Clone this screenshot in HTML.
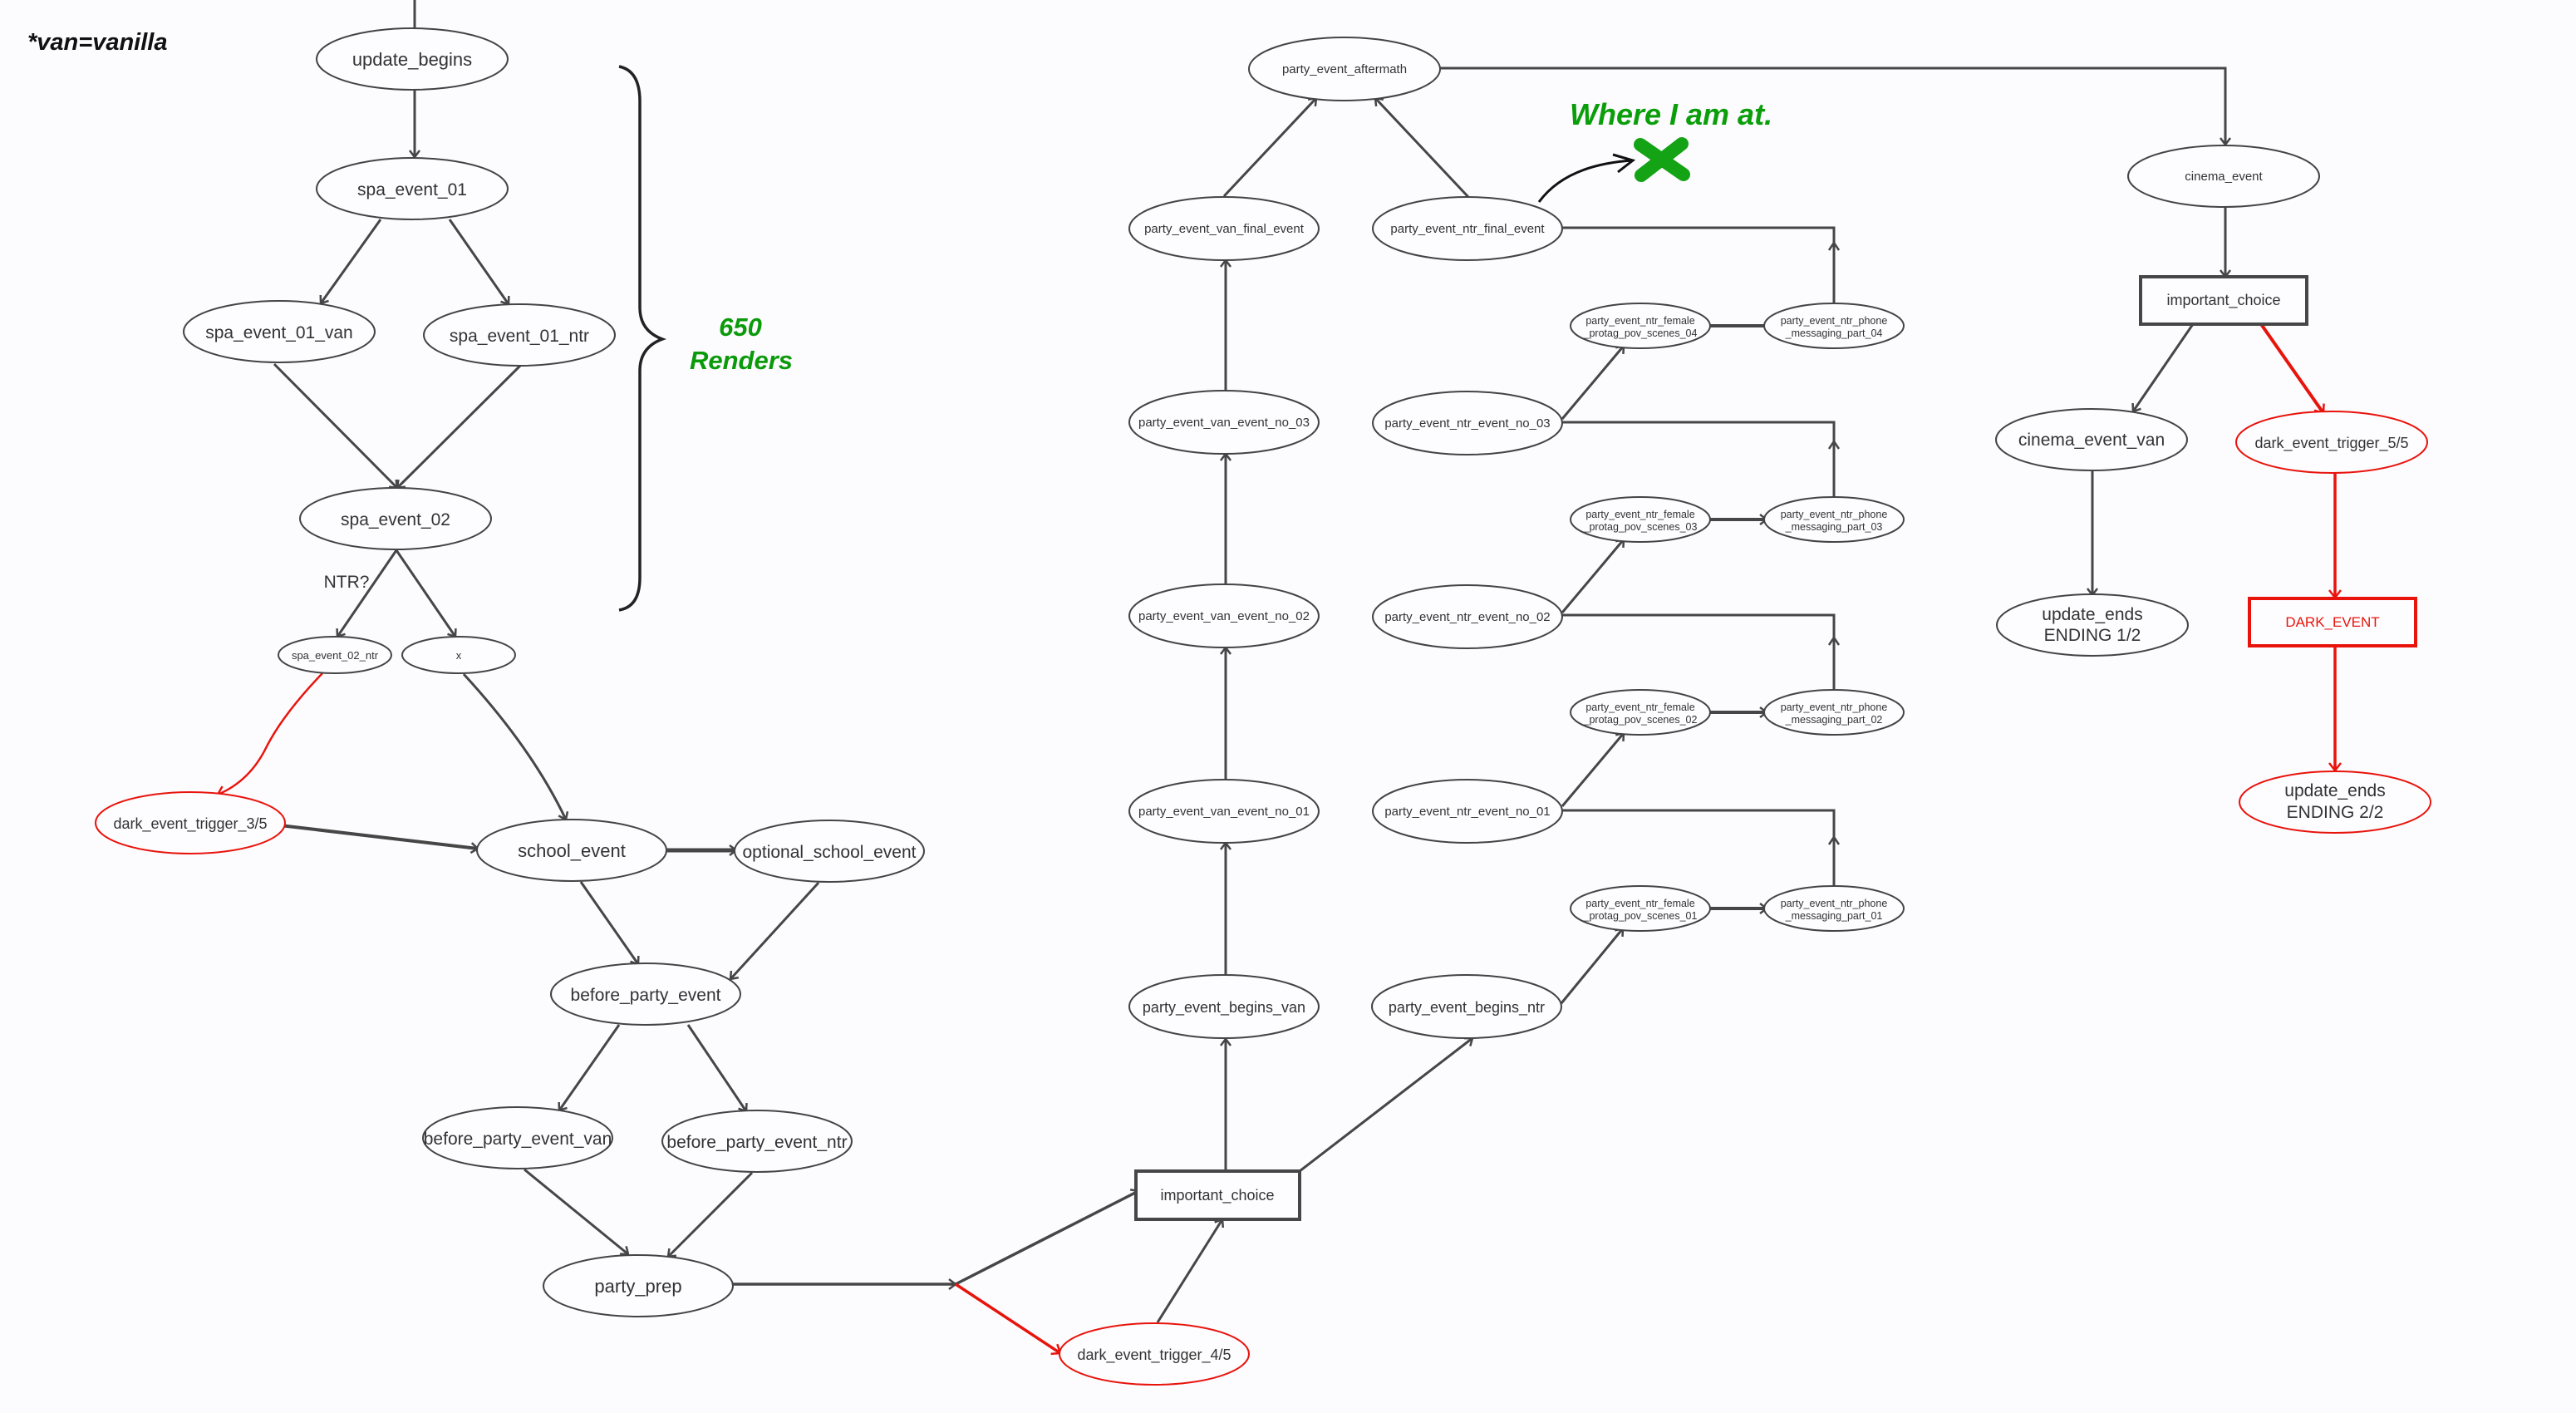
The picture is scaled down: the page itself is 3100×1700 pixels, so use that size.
<!DOCTYPE html>
<html><head><meta charset="utf-8"><style>
html,body{margin:0;padding:0;background:#fcfbfe;}
svg{display:block;}
text{font-family:"Liberation Sans",Arial,sans-serif;fill:#333;}
.n{fill:#fdfcfe;stroke:#444;stroke-width:2;}
.r{fill:#fdfcfe;stroke:#e8140c;stroke-width:2;}
.l{stroke:#464646;stroke-width:3;fill:none;}
.lr{stroke:#e8140c;stroke-width:3.5;fill:none;}
</style></head><body>
<svg width="3100" height="1700" viewBox="0 0 3100 1700" xmlns="http://www.w3.org/2000/svg">
<defs>
<marker id="a" viewBox="-12 -10 14 20" refX="0" refY="0" markerWidth="14" markerHeight="20" markerUnits="userSpaceOnUse" orient="auto" overflow="visible"><path d="M-8,-6 L0,0 L-8,6" fill="none" stroke="#464646" stroke-width="2.5"/></marker>
<marker id="ar" viewBox="-12 -10 14 20" refX="0" refY="0" markerWidth="14" markerHeight="20" markerUnits="userSpaceOnUse" orient="auto" overflow="visible"><path d="M-9,-7 L0,0 L-9,7" fill="none" stroke="#e8140c" stroke-width="2.5"/></marker>
</defs>
<rect width="3100" height="1700" fill="#fcfbfe"/>

<!-- annotations -->
<text x="33" y="60" style="font-weight:bold;font-style:italic;font-size:29px;fill:#111;">*van=vanilla</text>
<path d="M745,80 Q770,85 770,122 L770,370 Q770,398 797,408 Q770,418 770,446 L770,695 Q770,730 745,734" fill="none" stroke="#222" stroke-width="3.5"/>
<text x="891" y="404" text-anchor="middle" style="font-weight:bold;font-style:italic;font-size:31px;fill:#0a9a0a;">650</text>
<text x="892" y="444" text-anchor="middle" style="font-weight:bold;font-style:italic;font-size:31px;fill:#0a9a0a;">Renders</text>
<text x="1889" y="150" style="font-weight:bold;font-style:italic;font-size:36px;fill:#0a9e0a;">Where I am at.</text>
<g stroke="#14a314" stroke-width="16" stroke-linecap="round"><line x1="1974" y1="174" x2="2026" y2="210"/><line x1="2024" y1="173" x2="1975" y2="211"/></g>
<path d="M1852,243 Q1885,198 1965,193" fill="none" stroke="#111" stroke-width="3"/>
<path d="M1941,186 L1965,193 L1947,207" fill="none" stroke="#111" stroke-width="3"/>

<!-- left edges -->
<line class="l" x1="499" y1="0" x2="499" y2="34"/>
<line class="l" x1="499" y1="108" x2="499" y2="189" marker-end="url(#a)"/>
<line class="l" x1="458" y1="264" x2="386" y2="365" marker-end="url(#a)"/>
<line class="l" x1="541" y1="264" x2="612" y2="366" marker-end="url(#a)"/>
<line class="l" x1="330" y1="438" x2="478" y2="587" marker-end="url(#a)"/>
<line class="l" x1="626" y1="440" x2="478" y2="587" marker-end="url(#a)"/>
<line class="l" x1="477" y1="662" x2="406" y2="766" marker-end="url(#a)"/>
<line class="l" x1="477" y1="662" x2="548" y2="766" marker-end="url(#a)"/>
<path class="lr" style="stroke-width:2.5" d="M388,810 Q340,860 320,900 T262,956" marker-end="url(#ar)"/>
<path class="l" d="M558,811 Q640,900 681,986" marker-end="url(#a)"/>
<line class="l" style="stroke-width:4" x1="337" y1="993" x2="575" y2="1021" marker-end="url(#a)"/>
<line class="l" style="stroke-width:5" x1="801" y1="1023" x2="886" y2="1023" marker-end="url(#a)"/>
<line class="l" x1="699" y1="1061" x2="768" y2="1160" marker-end="url(#a)"/>
<line class="l" x1="985" y1="1062" x2="879" y2="1178" marker-end="url(#a)"/>
<line class="l" x1="745" y1="1233" x2="673" y2="1336" marker-end="url(#a)"/>
<line class="l" x1="828" y1="1233" x2="898" y2="1337" marker-end="url(#a)"/>
<line class="l" x1="631" y1="1407" x2="756" y2="1509" marker-end="url(#a)"/>
<line class="l" x1="905" y1="1411" x2="804" y2="1512" marker-end="url(#a)"/>
<line class="l" style="stroke-width:3.5" x1="882" y1="1545" x2="1150" y2="1545" marker-end="url(#a)"/>
<line class="l" style="stroke-width:3.5" x1="1150" y1="1545" x2="1370" y2="1433" marker-end="url(#a)"/>
<line class="lr" x1="1150" y1="1545" x2="1276" y2="1628" marker-end="url(#ar)"/>

<!-- middle edges -->
<line class="l" x1="1393" y1="1591" x2="1471" y2="1467" marker-end="url(#a)"/>
<line class="l" x1="1475" y1="1409" x2="1475" y2="1250" marker-end="url(#a)"/>
<line class="l" x1="1564" y1="1409" x2="1772" y2="1249" marker-end="url(#a)"/>
<line class="l" x1="1475" y1="1173" x2="1475" y2="1014" marker-end="url(#a)"/>
<line class="l" x1="1475" y1="938" x2="1475" y2="779" marker-end="url(#a)"/>
<line class="l" x1="1475" y1="703" x2="1475" y2="546" marker-end="url(#a)"/>
<line class="l" x1="1475" y1="471" x2="1475" y2="313" marker-end="url(#a)"/>
<line class="l" x1="1473" y1="236" x2="1584" y2="118" marker-end="url(#a)"/>
<line class="l" x1="1767" y1="237" x2="1655" y2="118" marker-end="url(#a)"/>
<path class="l" d="M1732,82 L2678,82 L2678,174" marker-end="url(#a)"/>

<line class="l" x1="1880" y1="504" x2="1954" y2="416" marker-end="url(#a)"/>
<line class="l" x1="1880" y1="737" x2="1954" y2="649" marker-end="url(#a)"/>
<line class="l" x1="1880" y1="970" x2="1954" y2="882" marker-end="url(#a)"/>
<line class="l" x1="1879" y1="1207" x2="1953" y2="1117" marker-end="url(#a)"/>

<path class="l" d="M1880,274 L2207,274 L2207,365"/>
<path class="l" d="M1880,508 L2207,508 L2207,598"/>
<path class="l" d="M1880,740 L2207,740 L2207,829"/>
<path class="l" d="M1880,975 L2207,975 L2207,1066"/>
<g fill="none" stroke="#464646" stroke-width="2.5">
<path d="M2201,301 L2207,292 L2213,301"/>
<path d="M2201,540 L2207,531 L2213,540"/>
<path d="M2201,776 L2207,767 L2213,776"/>
<path d="M2201,1016 L2207,1007 L2213,1016"/>
</g>
<line class="l" style="stroke-width:4" x1="2058" y1="392" x2="2123" y2="392"/>
<line class="l" style="stroke-width:4" x1="2058" y1="625" x2="2126" y2="625" marker-end="url(#a)"/>
<line class="l" style="stroke-width:4" x1="2057" y1="857" x2="2126" y2="857" marker-end="url(#a)"/>
<line class="l" style="stroke-width:4" x1="2057" y1="1093" x2="2126" y2="1093" marker-end="url(#a)"/>

<!-- right edges -->
<line class="l" x1="2678" y1="249" x2="2678" y2="333" marker-end="url(#a)"/>
<line class="l" x1="2639" y1="390" x2="2567" y2="495" marker-end="url(#a)"/>
<line class="lr" style="stroke-width:4" x1="2721" y1="390" x2="2796" y2="497" marker-end="url(#ar)"/>
<line class="l" x1="2518" y1="567" x2="2518" y2="716" marker-end="url(#a)"/>
<line class="lr" x1="2810" y1="569" x2="2810" y2="719" marker-end="url(#ar)"/>
<line class="lr" x1="2810" y1="777" x2="2810" y2="927" marker-end="url(#ar)"/>

<!-- left nodes -->
<ellipse class="n" cx="496" cy="71" rx="115" ry="37"/><text x="496" y="79" text-anchor="middle" font-size="22">update_begins</text>
<ellipse class="n" cx="496" cy="227" rx="115" ry="37"/><text x="496" y="235" text-anchor="middle" font-size="21">spa_event_01</text>
<ellipse class="n" cx="336" cy="399" rx="115" ry="37"/><text x="336" y="407" text-anchor="middle" font-size="21">spa_event_01_van</text>
<ellipse class="n" cx="625" cy="403" rx="115" ry="37"/><text x="625" y="411" text-anchor="middle" font-size="21">spa_event_01_ntr</text>
<ellipse class="n" cx="476" cy="624" rx="115" ry="37"/><text x="476" y="632" text-anchor="middle" font-size="21">spa_event_02</text>
<text x="417" y="707" text-anchor="middle" font-size="21">NTR?</text>
<ellipse class="n" cx="403" cy="788" rx="68" ry="22"/><text x="403" y="793" text-anchor="middle" font-size="13">spa_event_02_ntr</text>
<ellipse class="n" cx="552" cy="788" rx="68" ry="22"/><text x="552" y="793" text-anchor="middle" font-size="13">x</text>
<ellipse class="r" cx="229" cy="990" rx="114" ry="37"/><text x="229" y="997" text-anchor="middle" font-size="18">dark_event_trigger_3/5</text>
<ellipse class="n" cx="688" cy="1023" rx="114" ry="37"/><text x="688" y="1031" text-anchor="middle" font-size="22">school_event</text>
<ellipse class="n" cx="998" cy="1024" rx="114" ry="37"/><text x="998" y="1032" text-anchor="middle" font-size="21">optional_school_event</text>
<ellipse class="n" cx="777" cy="1196" rx="114" ry="37"/><text x="777" y="1204" text-anchor="middle" font-size="21">before_party_event</text>
<ellipse class="n" cx="623" cy="1369" rx="114" ry="37"/><text x="623" y="1377" text-anchor="middle" font-size="21">before_party_event_van</text>
<ellipse class="n" cx="911" cy="1373" rx="114" ry="37"/><text x="911" y="1381" text-anchor="middle" font-size="21">before_party_event_ntr</text>
<ellipse class="n" cx="768" cy="1547" rx="114" ry="37"/><text x="768" y="1555" text-anchor="middle" font-size="22">party_prep</text>

<!-- middle nodes -->
<rect x="1367" y="1409" width="197" height="58" fill="#fdfcfe" stroke="#464646" stroke-width="4"/>
<text x="1465" y="1444" text-anchor="middle" font-size="18">important_choice</text>
<ellipse class="r" cx="1389" cy="1629" rx="114" ry="37"/><text x="1389" y="1636" text-anchor="middle" font-size="18">dark_event_trigger_4/5</text>
<ellipse class="n" cx="1473" cy="1211" rx="114" ry="38"/><text x="1473" y="1218" text-anchor="middle" font-size="18">party_event_begins_van</text>
<ellipse class="n" cx="1765" cy="1211" rx="114" ry="38"/><text x="1765" y="1218" text-anchor="middle" font-size="18">party_event_begins_ntr</text>
<ellipse class="n" cx="1473" cy="976" rx="114" ry="38"/><text x="1473" y="981" text-anchor="middle" font-size="15">party_event_van_event_no_01</text>
<ellipse class="n" cx="1766" cy="976" rx="114" ry="38"/><text x="1766" y="981" text-anchor="middle" font-size="15">party_event_ntr_event_no_01</text>
<ellipse class="n" cx="1473" cy="741" rx="114" ry="38"/><text x="1473" y="746" text-anchor="middle" font-size="15">party_event_van_event_no_02</text>
<ellipse class="n" cx="1766" cy="742" rx="114" ry="38"/><text x="1766" y="747" text-anchor="middle" font-size="15">party_event_ntr_event_no_02</text>
<ellipse class="n" cx="1473" cy="508" rx="114" ry="38"/><text x="1473" y="513" text-anchor="middle" font-size="15">party_event_van_event_no_03</text>
<ellipse class="n" cx="1766" cy="509" rx="114" ry="38"/><text x="1766" y="514" text-anchor="middle" font-size="15">party_event_ntr_event_no_03</text>
<ellipse class="n" cx="1473" cy="275" rx="114" ry="38"/><text x="1473" y="280" text-anchor="middle" font-size="15">party_event_van_final_event</text>
<ellipse class="n" cx="1766" cy="275" rx="114" ry="38"/><text x="1766" y="280" text-anchor="middle" font-size="15">party_event_ntr_final_event</text>
<ellipse class="n" cx="1618" cy="83" rx="115" ry="38"/><text x="1618" y="88" text-anchor="middle" font-size="15">party_event_aftermath</text>

<g font-size="12.5">
<ellipse class="n" cx="1974" cy="392" rx="84" ry="27"/><text x="1974" y="390" text-anchor="middle">party_event_ntr_female</text><text x="1974" y="405" text-anchor="middle">_protag_pov_scenes_04</text>
<ellipse class="n" cx="2207" cy="392" rx="84" ry="27"/><text x="2207" y="390" text-anchor="middle">party_event_ntr_phone</text><text x="2207" y="405" text-anchor="middle">_messaging_part_04</text>
<ellipse class="n" cx="1974" cy="625" rx="84" ry="27"/><text x="1974" y="623" text-anchor="middle">party_event_ntr_female</text><text x="1974" y="638" text-anchor="middle">_protag_pov_scenes_03</text>
<ellipse class="n" cx="2207" cy="625" rx="84" ry="27"/><text x="2207" y="623" text-anchor="middle">party_event_ntr_phone</text><text x="2207" y="638" text-anchor="middle">_messaging_part_03</text>
<ellipse class="n" cx="1974" cy="857" rx="84" ry="27"/><text x="1974" y="855" text-anchor="middle">party_event_ntr_female</text><text x="1974" y="870" text-anchor="middle">_protag_pov_scenes_02</text>
<ellipse class="n" cx="2207" cy="857" rx="84" ry="27"/><text x="2207" y="855" text-anchor="middle">party_event_ntr_phone</text><text x="2207" y="870" text-anchor="middle">_messaging_part_02</text>
<ellipse class="n" cx="1974" cy="1093" rx="84" ry="27"/><text x="1974" y="1091" text-anchor="middle">party_event_ntr_female</text><text x="1974" y="1106" text-anchor="middle">_protag_pov_scenes_01</text>
<ellipse class="n" cx="2207" cy="1093" rx="84" ry="27"/><text x="2207" y="1091" text-anchor="middle">party_event_ntr_phone</text><text x="2207" y="1106" text-anchor="middle">_messaging_part_01</text>
</g>

<!-- right nodes -->
<ellipse class="n" cx="2676" cy="212" rx="115" ry="37"/><text x="2676" y="217" text-anchor="middle" font-size="15">cinema_event</text>
<rect x="2576" y="333" width="200" height="57" fill="#fdfcfe" stroke="#464646" stroke-width="4"/>
<text x="2676" y="367" text-anchor="middle" font-size="18">important_choice</text>
<ellipse class="n" cx="2517" cy="529" rx="115" ry="37"/><text x="2517" y="536" text-anchor="middle" font-size="21">cinema_event_van</text>
<ellipse class="r" cx="2806" cy="532" rx="115" ry="37"/><text x="2806" y="539" text-anchor="middle" font-size="18">dark_event_trigger_5/5</text>
<ellipse class="n" cx="2518" cy="752" rx="115" ry="37"/><text x="2518" y="746" text-anchor="middle" font-size="21">update_ends</text><text x="2518" y="771" text-anchor="middle" font-size="21">ENDING 1/2</text>
<rect x="2707" y="720" width="200" height="57" fill="#fdfcfe" stroke="#e8140c" stroke-width="4"/>
<text x="2807" y="754" text-anchor="middle" font-size="17" style="fill:#e8140c;">DARK_EVENT</text>
<ellipse class="r" cx="2810" cy="965" rx="115" ry="37"/><text x="2810" y="958" text-anchor="middle" font-size="21">update_ends</text><text x="2810" y="984" text-anchor="middle" font-size="21">ENDING 2/2</text>
</svg>
</body></html>
